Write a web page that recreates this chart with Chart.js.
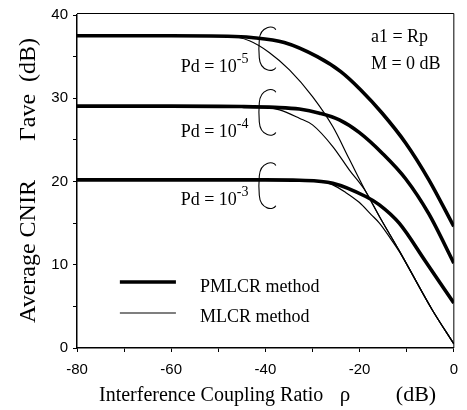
<!DOCTYPE html>
<html>
<head>
<meta charset="utf-8">
<title>Average CNIR vs interference coupling ratio</title>
<script src="https://cdn.jsdelivr.net/npm/chart.js@4"></script>
<style>
  html, body { margin: 0; padding: 0; background: #fff; }
  #myChart { display: block; }
</style>
</head>
<body>
<canvas id="myChart" width="467" height="410"></canvas>
<script>
// Pd = 10^-5, 10^-4, 10^-3
const pdExponents = ["-5", "-4", "-3"];

// PMLCR method (thick curves): rho (dB) and average CNIR (dB)
const pmlcrRho5 = [-80, -60, -48, -43, -36, -29, -24, -19.75, -15.2, -10.2, -5.3, 0];
const pmlcrCnir5 = [37.5, 37.5, 37.45, 37.3, 36.7, 35.0, 33.2, 31.0, 28.2, 24.6, 20.2, 14.6];
const pmlcrRho4 = [-80, -60, -45, -38, -32.8, -28.5, -24.3, -20.1, -15.2, -10.2, -5.3, 0];
const pmlcrCnir4 = [29.05, 29.05, 29.0, 28.9, 28.7, 28.2, 27.4, 25.9, 23.4, 20.3, 16.1, 10.2];
const pmlcrRho3 = [-80, -60, -40, -32.8, -25.7, -18.7, -15.8, -11.6, -6.0, 0];
const pmlcrCnir3 = [20.2, 20.2, 20.2, 20.15, 19.8, 18.2, 17.2, 15.0, 10.4, 5.4];

// MLCR method (thin curves)
const mlcrRho5 = [-80, -60, -47.6, -43.4, -39.2, -34.9, -30.0, -25.7, -22.2, -18.7, -15.8, -11.6, -4.6, 0];
const mlcrCnir5 = [37.5, 37.5, 37.45, 36.9, 35.5, 33.4, 30.2, 26.6, 22.7, 18.8, 15.8, 11.7, 4.6, 0.5];
const mlcrRho4 = [-80, -60, -41, -37, -32.8, -30.0, -25.7, -22.2, -18.7, -15.8, -11.6, -4.6, 0];
const mlcrCnir4 = [29.05, 29.05, 29.0, 28.6, 27.6, 26.8, 24.2, 21.4, 18.8, 15.8, 11.7, 4.6, 0.5];
const mlcrRho3 = [-80, -60, -40, -28, -25.7, -23, -20.1, -17.5, -15.8, -13.5, -11.6, -4.6, 0];
const mlcrCnir3 = [20.2, 20.2, 20.2, 20.0, 19.6, 18.7, 17.5, 16.0, 15.0, 13.2, 11.6, 4.6, 0.5];

const xTickLabels = [-80, -60, -40, -20, 0];
const yTickLabels = [0, 10, 20, 30, 40];

const legendLabels = ["PMLCR method", "MLCR method"];

const serif = '"Liberation Serif", "Times New Roman", serif';
const sans = '"Liberation Sans", Arial, sans-serif';

function toPoints(xs, ys) {
    return xs.map((x, i) => ({ x: x, y: ys[i] }));
}

function curve(xs, ys, width) {
    return {
        data: toPoints(xs, ys),
        borderColor: "#000",
        borderWidth: width,
        pointRadius: 0,
        fill: false,
        cubicInterpolationMode: "monotone"
    };
}

// brace and label placement, in axis units
const braces = [
    { top: 38.7, bottom: 33.2, labelY: 33.2 },
    { top: 31.2, bottom: 25.4, labelY: 25.4 },
    { top: 22.4, bottom: 16.6, labelY: 17.2 }
];

function drawBrace(ctx, xl, xr, yt, yb) {
    const h = yb - yt;
    ctx.beginPath();
    ctx.moveTo(xr, yt + 4);
    ctx.bezierCurveTo(xr - 2, yt - 1, xl + 1, yt, xl, yt + h * 0.3);
    ctx.bezierCurveTo(xl - 0.6, yt + h * 0.45, xl - 0.6, yt + h * 0.55, xl, yt + h * 0.7);
    ctx.bezierCurveTo(xl + 1, yb, xr - 2, yb + 1, xr, yb - 4);
    ctx.stroke();
}

const annotations = {
    id: "annotations",
    afterDraw(chart) {
        const ctx = chart.ctx;
        const sx = chart.scales.x;
        const sy = chart.scales.y;
        const area = chart.chartArea;
        ctx.save();
        ctx.fillStyle = "#000";
        ctx.strokeStyle = "#000";

        // frame top and right
        ctx.lineWidth = 1;
        ctx.beginPath();
        ctx.moveTo(area.left, area.top - 1.5);
        ctx.lineTo(area.right, area.top - 1.5);
        ctx.lineTo(area.right, area.bottom);
        ctx.stroke();

        // braces + Pd labels
        ctx.lineWidth = 1.1;
        braces.forEach((b, i) => {
            drawBrace(ctx, sx.getPixelForValue(-41.3), sx.getPixelForValue(-37.8),
                sy.getPixelForValue(b.top), sy.getPixelForValue(b.bottom));
            const xEnd = sx.getPixelForValue(-43.6);
            const yBase = sy.getPixelForValue(b.labelY);
            ctx.font = "18px " + serif;
            const w1 = ctx.measureText("Pd = 10").width;
            ctx.font = "14px " + serif;
            const w2 = ctx.measureText(pdExponents[i]).width;
            ctx.textAlign = "left";
            ctx.textBaseline = "alphabetic";
            ctx.font = "18px " + serif;
            ctx.fillText("Pd = 10", xEnd - w1 - w2, yBase);
            ctx.font = "14px " + serif;
            ctx.fillText(pdExponents[i], xEnd - w2, yBase - 9);
        });

        // parameters
        ctx.font = "18px " + serif;
        ctx.fillText("a1 = Rp", sx.getPixelForValue(-17.6), 42);
        ctx.fillText("M = 0 dB", sx.getPixelForValue(-17.6), 68.5);

        // legend
        const lx0 = sx.getPixelForValue(-70.9);
        const lx1 = sx.getPixelForValue(-59.0);
        ctx.lineWidth = 3.6;
        ctx.beginPath();
        ctx.moveTo(lx0, 282);
        ctx.lineTo(lx1, 282);
        ctx.stroke();
        ctx.lineWidth = 1.2;
        ctx.beginPath();
        ctx.moveTo(lx0, 313);
        ctx.lineTo(lx1, 313);
        ctx.stroke();
        ctx.fillText(legendLabels[0], 200, 291.5);
        ctx.fillText(legendLabels[1], 200, 322);

        // x axis title, in three pieces
        ctx.font = "20px " + serif;
        ctx.textAlign = "left";
        ctx.fillText("Interference Coupling Ratio", 99, 401);
        ctx.textAlign = "center";
        ctx.font = "21px " + serif;
        ctx.fillText("\u03c1", 345, 401);
        ctx.font = "22px " + serif;
        ctx.fillText("(dB)", 416, 401);

        // y axis title
        ctx.save();
        ctx.translate(area.left - 48, 0);
        ctx.rotate(-Math.PI / 2);
        ctx.textBaseline = "middle";
        ctx.font = "24px " + serif;
        ctx.fillText("Average CNIR", -251.5, 0);
        ctx.fillText("\u0393ave  (dB)", -89.5, 0);
        ctx.restore();

        ctx.restore();
    }
};

const config = {
    type: "line",
    data: {
        datasets: [
            curve(pmlcrRho5, pmlcrCnir5, 3.6),
            curve(pmlcrRho4, pmlcrCnir4, 3.6),
            curve(pmlcrRho3, pmlcrCnir3, 3.6),
            curve(mlcrRho5, mlcrCnir5, 1.2),
            curve(mlcrRho4, mlcrCnir4, 1.2),
            curve(mlcrRho3, mlcrCnir3, 1.2)
        ]
    },
    options: {
        responsive: false,
        animation: false,
        devicePixelRatio: 1,
        layout: { padding: { top: 15, right: 12, left: 0, bottom: 0 } },
        plugins: {
            legend: { display: false },
            tooltip: { enabled: false }
        },
        scales: {
            x: {
                type: "linear",
                min: -80,
                max: 0,
                grid: { drawOnChartArea: false, tickLength: 4, color: "#000" },
                border: { color: "#000", width: 1.5 },
                ticks: {
                    stepSize: 10,
                    color: "#000",
                    padding: 9,
                    maxRotation: 0,
                    autoSkip: false,
                    font: { family: sans, size: 15 },
                    callback: (v) => xTickLabels.includes(v) ? String(v) : ""
                },
                afterFit: (scale) => { scale.height = 62; }
            },
            y: {
                min: 0,
                max: 40,
                grid: { drawOnChartArea: false, tickLength: 4, color: "#000" },
                border: { color: "#000", width: 1.5 },
                ticks: {
                    stepSize: 5,
                    color: "#000",
                    padding: 5,
                    autoSkip: false,
                    font: { family: sans, size: 15 },
                    callback: (v) => yTickLabels.includes(v) ? String(v) : ""
                },
                afterFit: (scale) => { scale.width = 77; }
            }
        }
    },
    plugins: [annotations]
};

new Chart(document.getElementById("myChart"), config);
</script>
</body>
</html>
